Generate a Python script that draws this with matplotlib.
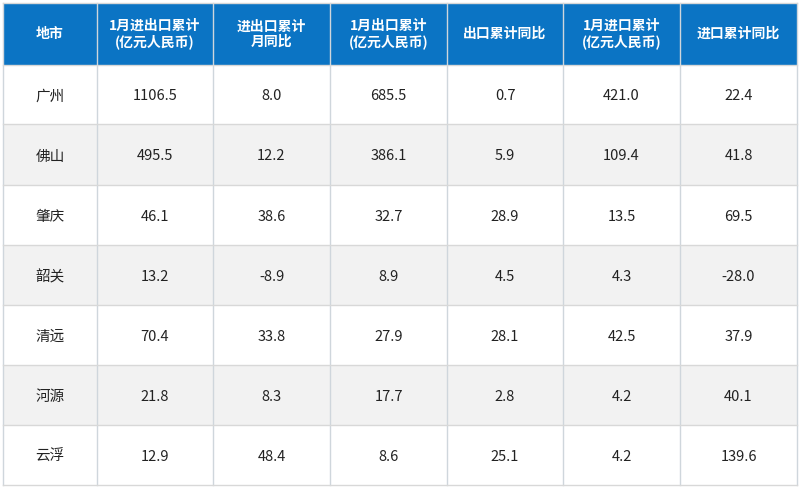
import matplotlib
matplotlib.use('Agg')
import matplotlib.pyplot as plt
from matplotlib.patches import Rectangle

plt.rcParams['font.family'] = ['Noto Sans CJK SC', 'DejaVu Sans']

headers = ['地市', '1月进出口累计\n(亿元人民币)', '进出口累计\n月同比', '1月出口累计\n(亿元人民币)',
           '出口累计同比', '1月进口累计\n(亿元人民币)', '进口累计同比']
cities = ['广州', '佛山', '肇庆', '韶关', '清远', '河源', '云浮']
total = ['1106.5', '495.5', '46.1', '13.2', '70.4', '21.8', '12.9']
total_yoy = ['8.0', '12.2', '38.6', '-8.9', '33.8', '8.3', '48.4']
export = ['685.5', '386.1', '32.7', '8.9', '27.9', '17.7', '8.6']
export_yoy = ['0.7', '5.9', '28.9', '4.5', '28.1', '2.8', '25.1']
imports = ['421.0', '109.4', '13.5', '4.3', '42.5', '4.2', '4.2']
import_yoy = ['22.4', '41.8', '69.5', '-28.0', '37.9', '40.1', '139.6']

columns = [cities, total, total_yoy, export, export_yoy, imports, import_yoy]

W, H = 799, 488
col_x = [3, 97, 213, 330, 447, 563, 680, 797]
row_y = [3, 65, 124, 185, 245, 305, 365, 425, 485]

fig = plt.figure(figsize=(W / 100, H / 100), dpi=100)
ax = fig.add_axes([0, 0, 1, 1])
ax.set_xlim(0, W)
ax.set_ylim(H, 0)
ax.axis('off')

blue = '#0b74c4'
ax.add_patch(Rectangle((col_x[0], row_y[0]), col_x[-1] - col_x[0], row_y[1] - row_y[0], color=blue, lw=0))
for r in range(len(cities)):
    fc = 'white' if r % 2 == 0 else '#f2f2f2'
    ax.add_patch(Rectangle((col_x[0], row_y[r + 1]), col_x[-1] - col_x[0], row_y[r + 2] - row_y[r + 1],
                           facecolor=fc, lw=0))

for c, h in enumerate(headers):
    xc = (col_x[c] + col_x[c + 1]) / 2
    ax.text(xc, (row_y[0] + row_y[1]) / 2, h, ha='center', va='center', color='white',
            fontsize=10, fontweight='bold', linespacing=1.1)
    for r, v in enumerate(columns[c]):
        ax.text(xc, (row_y[r + 1] + row_y[r + 2]) / 2 + 2, v, ha='center', va='center',
                color='#222222', fontsize=10.5)

for x in col_x:
    ax.plot([x, x], [row_y[0], row_y[-1]], color='#cfd6dc', lw=1)
for y in row_y:
    ax.plot([col_x[0], col_x[-1]], [y, y], color='#d8d8d8', lw=1)

fig.savefig('out.png', dpi=100)
